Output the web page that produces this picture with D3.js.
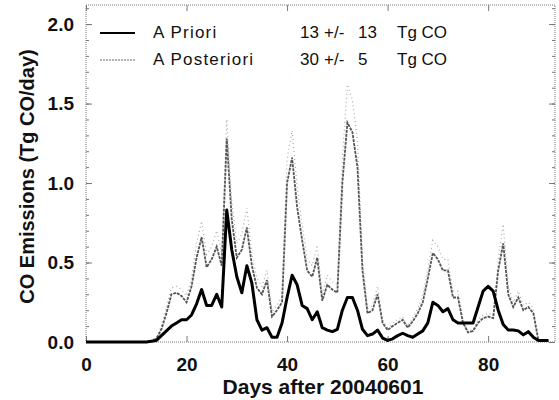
<!DOCTYPE html>
<html>
<head>
<meta charset="utf-8">
<script src="https://cdn.jsdelivr.net/npm/d3@7"></script>
<style>
  body { margin: 0; background: #fff; }
  text { font-family: "Liberation Sans", Arial, sans-serif; fill: #111; }
</style>
</head>
<body>
<svg id="chart"></svg>
<script>
const width = 559;
const height = 400;
const margin = {top: 5, right: 4, bottom: 58, left: 86};

// days after 20040601 (daily)
const days = d3.range(0, 93);

const aPriori = [
  0, 0, 0, 0, 0, 0, 0, 0, 0, 0, 0, 0, 0, 0.005,
  0.01, 0.04, 0.07, 0.10, 0.12, 0.14, 0.14, 0.17, 0.24, 0.33,
  0.23, 0.23, 0.30, 0.22, 0.83, 0.58, 0.41, 0.31, 0.48, 0.37,
  0.14, 0.075, 0.09, 0.03, 0.03, 0.12, 0.28, 0.42, 0.36, 0.23,
  0.21, 0.14, 0.19, 0.09, 0.075, 0.065, 0.08, 0.20, 0.28, 0.28,
  0.20, 0.08, 0.04, 0.05, 0.075, 0.025, 0.01, 0.02, 0.04, 0.055,
  0.04, 0.03, 0.05, 0.07, 0.12, 0.25, 0.23, 0.19, 0.21, 0.14,
  0.12, 0.12, 0.12, 0.12, 0.22, 0.32, 0.35, 0.32, 0.20, 0.11,
  0.075, 0.075, 0.07, 0.045, 0.065, 0.03, 0.01, 0.01, 0.01
];

const aPosteriori = [
  0, 0, 0, 0, 0, 0, 0, 0, 0, 0, 0, 0, 0, 0.005,
  0.02, 0.08, 0.18, 0.30, 0.31, 0.29, 0.25, 0.35, 0.53, 0.66,
  0.47, 0.52, 0.60, 0.48, 1.28, 0.77, 0.53, 0.58, 0.72, 0.48,
  0.34, 0.30, 0.39, 0.16, 0.20, 0.25, 1.00, 1.16, 0.85, 0.64,
  0.45, 0.41, 0.53, 0.26, 0.36, 0.33, 0.31, 1.00, 1.38, 1.32,
  1.10, 0.45, 0.18, 0.20, 0.30, 0.12, 0.075, 0.10, 0.12, 0.14,
  0.09, 0.13, 0.18, 0.25, 0.40, 0.56, 0.52, 0.45, 0.45, 0.28,
  0.28, 0.12, 0.06, 0.07, 0.12, 0.15, 0.16, 0.15, 0.45, 0.62,
  0.30, 0.22, 0.28, 0.20, 0.22, 0.18, 0.01, 0.01, 0.01
];

// faint scatter above the posterior curve (upper spread)
const posterioriUpper = [
  0, 0, 0, 0, 0, 0, 0, 0, 0, 0, 0, 0, 0, 0.01,
  0.03, 0.10, 0.22, 0.34, 0.35, 0.33, 0.29, 0.40, 0.62, 0.76,
  0.55, 0.60, 0.70, 0.56, 1.40, 0.88, 0.62, 0.68, 0.84, 0.56,
  0.40, 0.35, 0.45, 0.19, 0.23, 0.29, 1.15, 1.33, 0.98, 0.74,
  0.52, 0.48, 0.61, 0.30, 0.42, 0.38, 0.36, 1.15, 1.62, 1.52,
  1.27, 0.52, 0.21, 0.23, 0.35, 0.14, 0.09, 0.12, 0.14, 0.16,
  0.10, 0.15, 0.21, 0.29, 0.46, 0.64, 0.60, 0.52, 0.52, 0.32,
  0.32, 0.14, 0.07, 0.08, 0.14, 0.17, 0.18, 0.17, 0.52, 0.74,
  0.35, 0.25, 0.32, 0.23, 0.25, 0.21, 0.01, 0.01, 0.01
];

const xTicks = [0, 20, 40, 60, 80];
const yTicks = [0, 0.5, 1.0, 1.5, 2.0];
const yMinor = d3.range(0, 2.11, 0.1);

const legendNames = ["A Priori", "A Posteriori"];
const legendMeans = ["13", "30"];
const legendErrors = ["13", "5"];

const svg = d3.select("#chart")
    .attr("width", width)
    .attr("height", height);

const x = d3.scaleLinear().domain([0, 93.3]).range([margin.left, width - margin.right]);
const y = d3.scaleLinear().domain([0, 2.12]).range([height - margin.bottom, margin.top]);

const frame = "#777";

// dotted plot box
svg.append("rect")
    .attr("x", margin.left)
    .attr("y", margin.top)
    .attr("width", width - margin.left - margin.right)
    .attr("height", height - margin.top - margin.bottom)
    .attr("fill", "none")
    .attr("stroke", frame)
    .attr("stroke-width", 1)
    .attr("stroke-dasharray", "1,1");

// y axis, ticks inward
const yAxis = d3.axisLeft(y).tickValues(yTicks).tickFormat(d3.format(".1f")).tickSize(-6).tickPadding(12);
svg.append("g")
    .attr("transform", `translate(${margin.left},0)`)
    .call(yAxis)
    .call(g => g.select(".domain").remove())
    .call(g => g.selectAll("line").attr("stroke", frame))
    .call(g => g.selectAll("text").attr("font-size", 19).attr("font-weight", "bold").attr("fill", "#111"));

svg.append("g")
    .attr("transform", `translate(${margin.left},0)`)
    .call(d3.axisLeft(y).tickValues(yMinor).tickSize(-3).tickFormat(""))
    .call(g => g.select(".domain").remove())
    .call(g => g.selectAll("line").attr("stroke", frame));

svg.append("g")
    .attr("transform", `translate(${width - margin.right},0)`)
    .call(d3.axisRight(y).tickValues(yTicks).tickSize(-6).tickFormat(""))
    .call(g => g.select(".domain").remove())
    .call(g => g.selectAll("line").attr("stroke", frame));

svg.append("g")
    .attr("transform", `translate(${width - margin.right},0)`)
    .call(d3.axisRight(y).tickValues(yMinor).tickSize(-3).tickFormat(""))
    .call(g => g.select(".domain").remove())
    .call(g => g.selectAll("line").attr("stroke", frame));

// x axis
const xAxis = d3.axisBottom(x).tickValues(xTicks).tickSize(-6).tickPadding(16);
svg.append("g")
    .attr("transform", `translate(0,${height - margin.bottom})`)
    .call(xAxis)
    .call(g => g.select(".domain").remove())
    .call(g => g.selectAll("line").attr("stroke", frame))
    .call(g => g.selectAll("text").attr("font-size", 19).attr("font-weight", "bold").attr("fill", "#111"));

svg.append("g")
    .attr("transform", `translate(0,${margin.top})`)
    .call(d3.axisTop(x).tickValues(xTicks).tickSize(-6).tickFormat(""))
    .call(g => g.select(".domain").remove())
    .call(g => g.selectAll("line").attr("stroke", frame));

// axis titles
svg.append("text")
    .attr("x", 323)
    .attr("y", 394)
    .attr("text-anchor", "middle")
    .attr("font-size", 21)
    .attr("font-weight", "bold")
    .text("Days after 20040601");

svg.append("text")
    .attr("transform", `translate(34,${(margin.top + height - margin.bottom) / 2 + 3}) rotate(-90)`)
    .attr("text-anchor", "middle")
    .attr("font-size", 20)
    .attr("font-weight", "bold")
    .text("CO Emissions (Tg CO/day)");

// lines
const line = d3.line()
    .x((d, i) => x(days[i]))
    .y(d => y(d));

svg.append("path")
    .datum(posterioriUpper)
    .attr("d", line)
    .attr("fill", "none")
    .attr("stroke", "#aaa")
    .attr("stroke-width", 1.2)
    .attr("stroke-dasharray", "1,3");

svg.append("path")
    .datum(aPosteriori)
    .attr("d", line)
    .attr("fill", "none")
    .attr("stroke", "#555")
    .attr("stroke-width", 1.8)
    .attr("stroke-dasharray", "3,1");

svg.append("path")
    .datum(aPriori)
    .attr("d", line)
    .attr("fill", "none")
    .attr("stroke", "#000")
    .attr("stroke-width", 3)
    .attr("stroke-linejoin", "round");

// legend
const legendStyles = [
  {stroke: "#000", w: 2, dash: null},
  {stroke: "#999", w: 1.5, dash: "2,1"}
];
const legend = svg.append("g").attr("font-size", 17);
legendNames.forEach((name, i) => {
  const yy = 33 + i * 27;
  const base = yy + 5;
  legend.append("line")
      .attr("x1", 100).attr("x2", 135)
      .attr("y1", yy).attr("y2", yy)
      .attr("stroke", legendStyles[i].stroke)
      .attr("stroke-width", legendStyles[i].w)
      .attr("stroke-dasharray", legendStyles[i].dash);
  legend.append("text")
      .attr("x", 153).attr("y", base)
      .attr("letter-spacing", 1.2)
      .text(name);
  legend.append("text").attr("x", 300).attr("y", base).text(legendMeans[i]);
  legend.append("text").attr("x", 324).attr("y", base).text("+/-");
  legend.append("text").attr("x", 358).attr("y", base).text(legendErrors[i]);
  legend.append("text").attr("x", 397).attr("y", base).text("Tg CO");
});
</script>
</body>
</html>
